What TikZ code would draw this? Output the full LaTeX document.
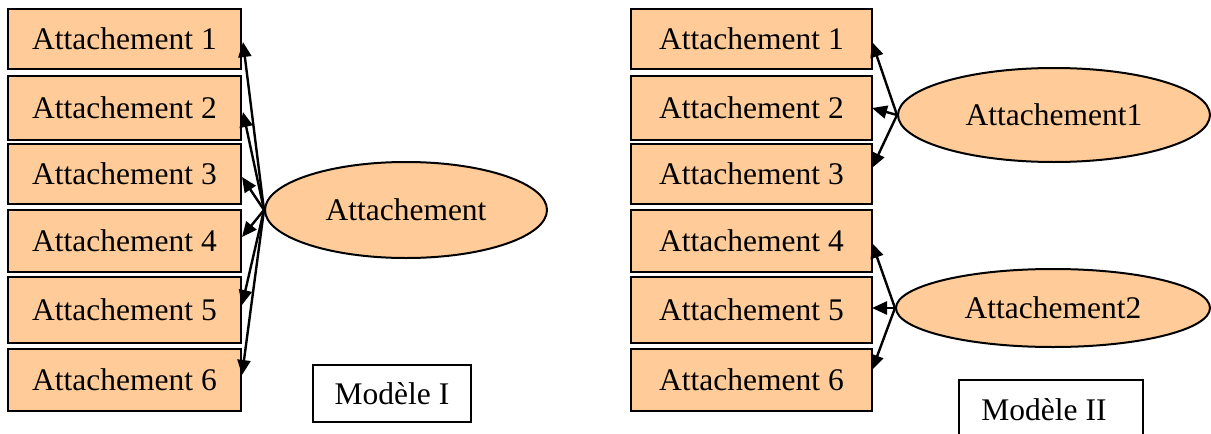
\documentclass[tikz,border=0pt]{standalone}
\usepackage{fontspec}
\setmainfont{Liberation Serif}
\usetikzlibrary{shapes.geometric,arrows.meta}
\definecolor{peach}{HTML}{FFCC99}
\tikzset{
  att/.style={draw=black,line width=2.6pt,fill=peach,rectangle,inner sep=0pt,font=\fontsize{31.5}{38}\selectfont},
  ell/.style={draw=black,line width=2pt,fill=peach,ellipse,inner sep=0pt,font=\fontsize{31.5}{38}\selectfont},
  lbl/.style={draw=black,line width=2.2pt,fill=white,rectangle,inner sep=0pt,font=\fontsize{31.5}{38}\selectfont},
  arr/.style={line width=2.4pt,-{Triangle[length=15pt,width=13pt]}}
}
\begin{document}
\begin{tikzpicture}[x=1pt,y=-1pt]
\useasboundingbox (0,0) rectangle (1211,434);
% left boxes
\node[att,minimum width=233pt,minimum height=60pt] (L1) at (124.5,39) {Attachement 1};
\node[att,minimum width=233pt,minimum height=64pt] (L2) at (124.5,108) {Attachement 2};
\node[att,minimum width=233pt,minimum height=60pt] (L3) at (124.5,174) {Attachement 3};
\node[att,minimum width=233pt,minimum height=62pt] (L4) at (124.5,241) {Attachement 4};
\node[att,minimum width=233pt,minimum height=66pt] (L5) at (124.5,310) {Attachement 5};
\node[att,minimum width=233pt,minimum height=62pt] (L6) at (124.5,380) {Attachement 6};
\node[ell,minimum width=282pt,minimum height=96pt] (E) at (406,210) {Attachement};
\node[lbl,minimum width=158pt,minimum height=57pt] (M1) at (392,393.5) {Modèle I};
\coordinate (lt1) at (243,42);
\coordinate (lt2) at (243,112);
\coordinate (lt3) at (242,177);
\coordinate (lt4) at (242,237);
\coordinate (lt5) at (242,305);
\coordinate (lt6) at (242,375);
\foreach \i in {1,...,6} \draw[arr] (E.west) -- (lt\i);
% right boxes
\node[att,minimum width=241pt,minimum height=60pt] (R1) at (751.5,39) {Attachement 1};
\node[att,minimum width=241pt,minimum height=64pt] (R2) at (751.5,108) {Attachement 2};
\node[att,minimum width=241pt,minimum height=60pt] (R3) at (751.5,174) {Attachement 3};
\node[att,minimum width=241pt,minimum height=62pt] (R4) at (751.5,241) {Attachement 4};
\node[att,minimum width=241pt,minimum height=66pt] (R5) at (751.5,310) {Attachement 5};
\node[att,minimum width=241pt,minimum height=62pt] (R6) at (751.5,380) {Attachement 6};
\node[ell,minimum width=312pt,minimum height=94pt] (E1) at (1054,115) {Attachement1};
\node[ell,minimum width=314pt,minimum height=78pt] (E2) at (1053,308) {Attachement2};
\node[lbl,minimum width=184pt,minimum height=60pt] (M2) at (1051,410) {Modèle II\hspace*{14pt}};
\coordinate (rt1) at (872,42);
\coordinate (rt2) at (872,108);
\coordinate (rt3) at (872,168);
\coordinate (rt4) at (872,243);
\coordinate (rt5) at (872,308);
\coordinate (rt6) at (872,370);
\foreach \i in {1,2,3} \draw[arr] (E1.west) -- (rt\i);
\foreach \i in {4,5,6} \draw[arr] (E2.west) -- (rt\i);
\end{tikzpicture}
\end{document}
